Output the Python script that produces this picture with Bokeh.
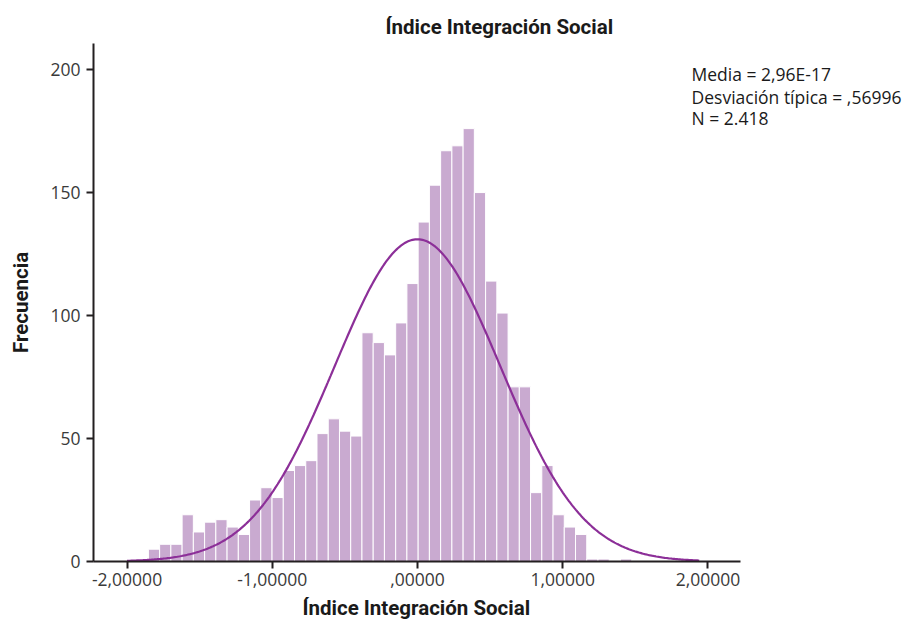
import numpy as np
from bokeh.plotting import figure
from bokeh.models import (Range1d, FixedTicker, Label, Title)
from bokeh.embed import file_html
from bokeh.resources import INLINE

# Histogram of the social-integration index
bin_start = -1.853
bin_width = 0.0774
counts = [5, 7, 7, 19, 12, 16, 17, 14, 11, 25, 30, 26, 37, 39, 41, 52, 58, 53,
          51, 93, 89, 84, 97, 113, 138, 153, 167, 169, 176, 150, 114, 101, 71,
          71, 28, 39, 19, 14, 11, 1, 1, 0, 1]

# Summary statistics shown in the corner
mean_val = 2.96e-17
std_val = 0.56996
n_val = 2418
stats_lines = ["Media = 2,96E-17", "Desviación típica = ,56996", "N = 2.418"]

x_ticks = [-2, -1, 0, 1, 2]
x_tick_labels = ["-2,00000", "-1,00000", ",00000", "1,00000", "2,00000"]
y_ticks = [0, 50, 100, 150, 200]

title_text = "Índice Integración Social"
x_label = "Índice Integración Social"
y_label = "Frecuencia"

BAR = "#c9aad0"
CURVE = "#8c2f98"
AXIS = "#231f20"
TEXT = "#3a3a3a"
BOLD_FONT = "Roboto"
FONT = "Open Sans"

edges = bin_start + bin_width * np.arange(len(counts) + 1)

# the frame runs to the right edge so the statistics box is not clipped;
# the x axis itself is limited with bounds
axis_lo, axis_hi = -2.231, 2.224
p = figure(width=909, height=624, output_backend="svg", toolbar_location=None,
           x_range=Range1d(axis_lo, 3.388), y_range=Range1d(0, 210.6),
           min_border_left=93, min_border_right=0, min_border_top=43,
           min_border_bottom=63, background_fill_color="white",
           border_fill_color="white", outline_line_color=None)

p.title = Title(text=title_text, align="left", offset=292,
                text_font=BOLD_FONT, text_font_size="20.5px",
                text_font_style="bold", text_color="#1a1a1a")

p.quad(left=edges[:-1], right=edges[1:], bottom=0, top=counts,
       fill_color=BAR, line_color="white", line_width=1)

# Normal curve scaled to the histogram counts
xs = np.linspace(-2.0, 1.94, 400)
ys = n_val * bin_width / (std_val * np.sqrt(2 * np.pi)) * \
    np.exp(-0.5 * ((xs - mean_val) / std_val) ** 2)
p.line(xs, ys, line_color=CURVE, line_width=2.2)

p.grid.visible = False

for ax in (p.xaxis[0], p.yaxis[0]):
    ax.axis_line_color = AXIS
    ax.axis_line_width = 2
    ax.major_tick_line_color = AXIS
    ax.major_tick_line_width = 2
    ax.major_tick_out = 7
    ax.major_tick_in = 0
    ax.minor_tick_line_color = None
    ax.major_label_text_font = FONT
    ax.major_label_text_font_size = "17.5px"
    ax.major_label_text_color = TEXT
    ax.axis_label_text_font = BOLD_FONT
    ax.axis_label_text_font_size = "20.5px"
    ax.axis_label_text_font_style = "bold"
    ax.axis_label_text_color = "#1a1a1a"

p.xaxis.bounds = (axis_lo, axis_hi)
p.xaxis.ticker = FixedTicker(ticks=x_ticks)
p.xaxis.major_label_overrides = {t: l for t, l in zip(x_ticks, x_tick_labels)}
p.xaxis.major_label_standoff = 4

# x axis title sits under the bounded axis, centred on its span
p.add_layout(Title(text=x_label, align="left", offset=209, standoff=10,
                   text_font=BOLD_FONT, text_font_size="20.5px",
                   text_font_style="bold", text_color="#1a1a1a"), "below")

p.yaxis.ticker = FixedTicker(ticks=y_ticks)
p.yaxis.major_label_standoff = 6
p.yaxis.axis_label = y_label
p.yaxis.axis_label_standoff = 14

stat_y = [198.4, 189.0, 180.5]
for txt, yy in zip(stats_lines, stat_y):
    p.add_layout(Label(x=1.887, y=yy, text=txt, text_font=FONT,
                       text_font_size="17.5px", text_color="#1a1a1a",
                       text_baseline="middle", text_align="left"))

open("out.html", "w").write(file_html(p, INLINE))
